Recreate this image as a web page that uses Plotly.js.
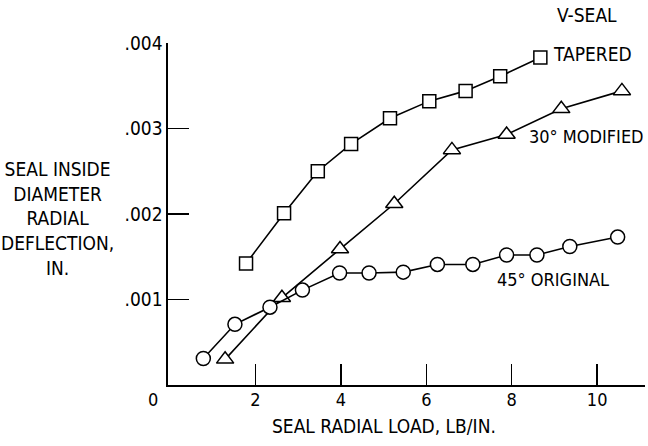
<!DOCTYPE html>
<html>
<head>
<meta charset="utf-8">
<script src="https://cdn.plot.ly/plotly-3.0.1.min.js"></script>
<style>html,body{margin:0;padding:0;background:#fff;}#chart{width:648px;height:446px;}</style>
</head>
<body>
<div id="chart"></div>
<script>
// Data
var taperedLoad = [1.78, 2.67, 3.46, 4.24, 5.15, 6.07, 6.92, 7.73, 8.67];
var taperedDefl = [0.00142, 0.00201, 0.00250, 0.00282, 0.00312, 0.00332, 0.00344, 0.00361, 0.00383];

var modifiedLoad = [1.29, 2.62, 3.98, 5.25, 6.60, 7.88, 9.16, 10.58];
var modifiedDefl = [0.00030, 0.00102, 0.00159, 0.00212, 0.00275, 0.00293, 0.00323, 0.00344];

var originalLoad = [0.78, 1.52, 2.34, 3.10, 3.97, 4.66, 5.46, 6.26, 7.09, 7.88, 8.59, 9.36, 10.48];
var originalDefl = [0.00031, 0.00071, 0.00091, 0.00111, 0.00131, 0.00131, 0.00132, 0.00141, 0.00141, 0.00152, 0.00152, 0.00162, 0.00173];

var xTickVals = [2, 4, 6, 8, 10];
var xTickText = ["2", "4", "6", "8", "10"];
var yTickVals = [0.001, 0.002, 0.003, 0.004];
var yTickText = [".001", ".002", ".003", ".004"];

var FONT = "Liberation Sans Narrow, DejaVu Sans Condensed, Arial Narrow, Liberation Sans, sans-serif";

function series(x, y, symbol, size) {
  return {
    x: x, y: y, type: "scatter", mode: "lines+markers",
    line: {color: "#000", width: 1.6},
    marker: {symbol: symbol, size: size, color: "#fff", line: {color: "#000", width: 1.5}},
    cliponaxis: false, showlegend: false, hoverinfo: "skip"
  };
}

var data = [
  series(modifiedLoad, modifiedDefl, "triangle-up", 15),
  series(taperedLoad, taperedDefl, "square", 13),
  series(originalLoad, originalDefl, "circle", 14)
];

// layout geometry helpers (pixel -> paper)
var L = 168, R = 645, T = 43, B = 385;
function px(x) { return (x - L) / (R - L); }
function py(y) { return (B - y) / (B - T); }
function label(text, x, y, size, extra) {
  var a = {text: text, xref: "paper", yref: "paper", x: px(x), y: py(y),
    xanchor: "center", yanchor: "middle", showarrow: false,
    font: {family: FONT, size: size, color: "#000"}};
  if (extra) for (var k in extra) a[k] = extra[k];
  return a;
}

var layout = {
  width: 648, height: 446,
  margin: {l: L, r: 648 - R, t: T, b: 446 - B, pad: 0},
  paper_bgcolor: "#fff", plot_bgcolor: "#fff",
  font: {family: FONT, size: 19, color: "#000"},
  xaxis: {
    range: [-0.047, 11.12], showgrid: false, zeroline: false,
    showline: true, linecolor: "#000", linewidth: 1.6,
    ticks: "inside", ticklen: 21, tickwidth: 1.5, tickcolor: "#000",
    tickvals: xTickVals, ticktext: xTickText, ticklabelstandoff: -2,
    tickfont: {family: FONT, size: 18, color: "#000"}
  },
  yaxis: {
    range: [0, 0.004], showgrid: false, zeroline: false,
    showline: true, linecolor: "#000", linewidth: 1.6,
    ticks: "inside", ticklen: 21, tickwidth: 1.5, tickcolor: "#000",
    tickvals: yTickVals, ticktext: yTickText,
    tickfont: {family: FONT, size: 19, color: "#000"}
  },
  annotations: [
    label("V-SEAL", 586.7, 14.5, 19),
    label("TAPERED", 592.5, 54, 19),
    label("30° MODIFIED", 586.7, 136, 18),
    label("45° ORIGINAL", 553, 279.5, 18),
    label("0", 153, 400, 18),
    label("SEAL RADIAL LOAD, LB/IN.", 383.5, 426, 19),
    label("SEAL INSIDE<br>DIAMETER<br>RADIAL<br>DEFLECTION,<br>IN.", 57, 218.5, 19, {align: "center"})
  ]
};

Plotly.newPlot("chart", data, layout, {staticPlot: true, displayModeBar: false});
</script>
</body>
</html>
